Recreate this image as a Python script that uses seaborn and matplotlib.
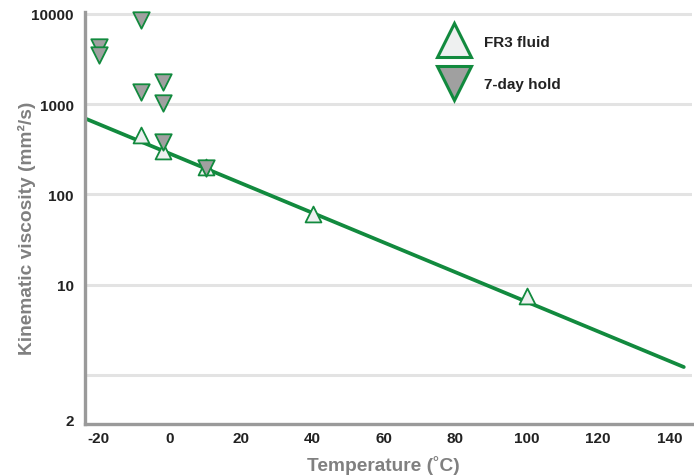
import matplotlib
matplotlib.use("Agg")
import matplotlib.pyplot as plt
import matplotlib.ticker as mticker
from matplotlib.lines import Line2D
import seaborn as sns
import pandas as pd

# Data
fr3_temp = [-8, -2, 10, 40, 100]
fr3_visc = [450, 305, 200, 60, 7.4]
hold_temp = [-20, -20, -8, -8, -2, -2, -2, 10]
hold_visc = [4300, 3500, 8600, 1380, 1780, 1020, 380, 195]
line_temp = [-24, 144]
line_visc = [700, 1.22]
x_ticks = [-20, 0, 20, 40, 60, 80, 100, 120, 140]
y_ticks = [1, 10, 100, 1000, 10000]
y_tick_labels = ["", "10", "100", "1000", "10000"]

GREEN = "#128a3e"
GRAY_AX = "#9a9a9a"
LABEL_GRAY = "#808080"

sns.set_theme(style="white")
plt.rcParams["font.family"] = ["Liberation Sans", "DejaVu Sans"]

fig = plt.figure(figsize=(6.94, 4.77), dpi=100)
ax = fig.add_axes([85 / 694, (477 - 425) / 477, (692 - 85) / 694, (425 - 13) / 477])

fit_df = pd.DataFrame({"temp": line_temp, "visc": line_visc})
sns.lineplot(data=fit_df, x="temp", y="visc", ax=ax, color=GREEN, linewidth=2.7, zorder=2)

fr3_df = pd.DataFrame({"temp": fr3_temp, "visc": fr3_visc})
hold_df = pd.DataFrame({"temp": hold_temp, "visc": hold_visc})
sns.scatterplot(data=fr3_df, x="temp", y="visc", ax=ax, marker="^", s=130,
                color="#eef0f0", edgecolor=GREEN, linewidth=1.3, zorder=3, clip_on=False)
sns.scatterplot(data=hold_df, x="temp", y="visc", ax=ax, marker="v", s=140,
                color="#a0a0a0", edgecolor=GREEN, linewidth=1.3, zorder=4, clip_on=False)

ax.set_yscale("log")
ax.set_xlim(-23.8, 146.3)
ax.set_ylim(0.285, 10500)

ax.yaxis.set_major_locator(mticker.FixedLocator(y_ticks))
ax.yaxis.set_major_formatter(mticker.FixedFormatter(y_tick_labels))
ax.yaxis.set_minor_locator(mticker.FixedLocator([0.323]))
ax.yaxis.set_minor_formatter(mticker.FixedFormatter(["2"]))
ax.set_xticks(x_ticks)
ax.set_xticklabels([str(v) for v in x_ticks])

ax.grid(True, axis="y", which="major", color="#e3e3e3", linewidth=2.2)
ax.set_axisbelow(True)

for s in ["top", "right"]:
    ax.spines[s].set_visible(False)
for s in ["left", "bottom"]:
    ax.spines[s].set_color(GRAY_AX)
    ax.spines[s].set_linewidth(2.4)

ax.tick_params(axis="x", direction="in", length=9, width=2.0, color=GRAY_AX,
               pad=5, labelsize=11, labelcolor="#222222")
ax.tick_params(axis="y", which="both", length=0, pad=8, labelsize=11, labelcolor="#222222")
for lab in ax.get_xticklabels() + ax.get_yticklabels() + ax.get_yticklabels(minor=True):
    lab.set_fontweight("bold")

ax.set_xlabel("Temperature (˚C)", fontsize=13.8, fontweight="bold", color=LABEL_GRAY)
ax.set_ylabel("Kinematic viscosity (mm²/s)", fontsize=13.8, fontweight="bold", color=LABEL_GRAY)
ax.yaxis.set_label_coords(-0.08, 0.478)
ax.xaxis.set_label_coords(0.491, -0.075)

handles = [
    Line2D([], [], linestyle="none", marker="^", markersize=24, markerfacecolor="#eef0f0",
           markeredgecolor=GREEN, markeredgewidth=2.2, label="FR3 fluid"),
    Line2D([], [], linestyle="none", marker="v", markersize=24, markerfacecolor="#a0a0a0",
           markeredgecolor=GREEN, markeredgewidth=2.2, label="7-day hold"),
]
leg = ax.legend(handles=handles, loc="upper left", bbox_to_anchor=(425 / 694, (477 - 22) / 477),
                bbox_transform=fig.transFigure, frameon=False, handletextpad=0.95,
                labelspacing=1.85, prop={"weight": "bold", "size": 11})
for t in leg.get_texts():
    t.set_color("#222222")

fig.savefig("out.png", dpi=100)
